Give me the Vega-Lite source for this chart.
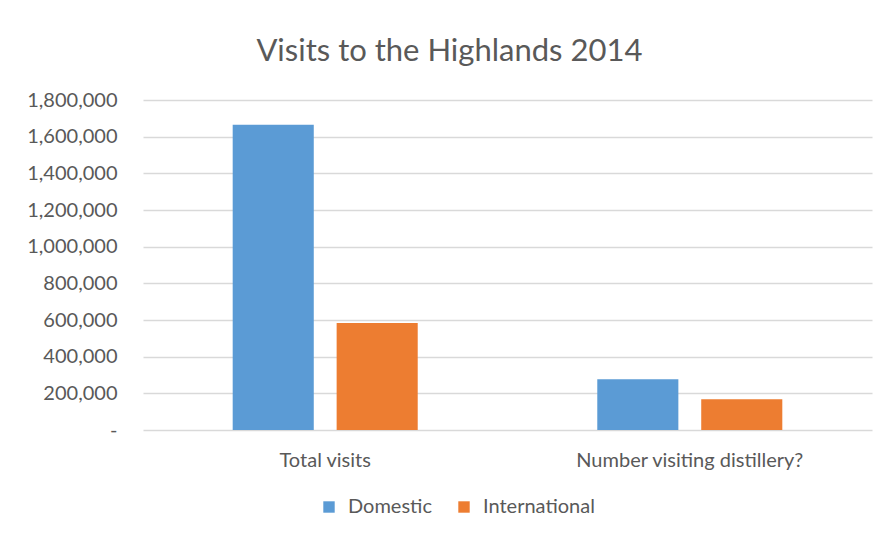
{
  "$schema": "https://vega.github.io/schema/vega-lite/v6.json",
  "width": 729,
  "height": 330,
  "autosize": {"type": "none"},
  "padding": {"left": 143, "top": 100, "right": 11, "bottom": 106},
  "background": "white",
  "title": {
    "text": "Visits to the Highlands 2014",
    "font": "Lato",
    "fontSize": 31,
    "fontWeight": "normal",
    "color": "#595959",
    "anchor": "middle",
    "frame": "bounds",
    "offset": 22
  },
  "data": {
    "values": [
      {"category": "Total visits", "type": "Domestic", "visits": 1665000},
      {"category": "Total visits", "type": "International", "visits": 583000},
      {"category": "Number visiting distillery?", "type": "Domestic", "visits": 277000},
      {"category": "Number visiting distillery?", "type": "International", "visits": 168000}
    ]
  },
  "mark": {"type": "bar"},
  "encoding": {
    "x": {
      "field": "category",
      "type": "nominal",
      "sort": ["Total visits", "Number visiting distillery?"],
      "scale": {"paddingInner": 0.4925, "paddingOuter": 0.246},
      "axis": {
        "title": null,
        "labelAngle": 0,
        "ticks": false,
        "domain": false,
        "labelPadding": 20,
        "labelLimit": 0,
        "labelFont": "Lato",
        "labelFontSize": 20,
        "labelColor": "#595959"
      }
    },
    "xOffset": {
      "field": "type",
      "type": "nominal",
      "scale": {"paddingInner": 0.22, "paddingOuter": 0}
    },
    "y": {
      "field": "visits",
      "type": "quantitative",
      "scale": {"domain": [0, 1800000], "nice": false},
      "axis": {
        "title": null,
        "values": [0, 200000, 400000, 600000, 800000, 1000000, 1200000, 1400000, 1600000, 1800000],
        "labelExpr": "datum.value == 0 ? '-\u2007\u2007' : format(datum.value, ',')",
        "ticks": false,
        "domain": false,
        "labelPadding": 26,
        "labelFont": "Lato",
        "labelFontSize": 20,
        "labelColor": "#595959",
        "gridColor": "#D9D9D9",
        "gridWidth": 1.5
      }
    },
    "color": {
      "field": "type",
      "type": "nominal",
      "scale": {"domain": ["Domestic", "International"], "range": ["#5B9BD5", "#ED7D31"]},
      "legend": {
        "title": null,
        "orient": "none",
        "legendX": 176,
        "legendY": 397,
        "direction": "horizontal",
        "symbolType": "square",
        "symbolSize": 130,
        "symbolStrokeWidth": 0,
        "labelFont": "Lato",
        "labelFontSize": 20,
        "labelColor": "#595959",
        "labelOffset": 9,
        "labelLimit": 0,
        "columnPadding": 22
      }
    }
  },
  "config": {
    "view": {"stroke": null}
  }
}
